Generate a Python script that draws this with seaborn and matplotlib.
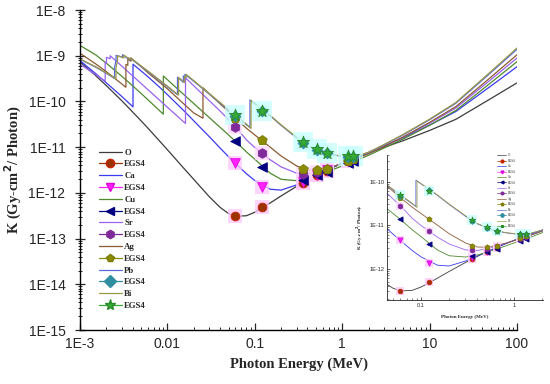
import numpy as np
import pandas as pd
import matplotlib
matplotlib.use("Agg")
import matplotlib.pyplot as plt
import seaborn as sns
from matplotlib.lines import Line2D
from matplotlib.ticker import LogLocator, FixedLocator, FixedFormatter, NullFormatter

sns.set_style("ticks")
plt.rcParams['font.family'] = ['Liberation Sans', 'DejaVu Sans']

# ---------------- data (photon energy in MeV, K in Gy-cm^2/photon) ----------------
O_E = [0.001, 0.0015, 0.002, 0.003, 0.004, 0.005, 0.006, 0.008, 0.01, 0.015, 0.02, 0.03, 0.04, 0.05,
       0.06, 0.08, 0.1, 0.15, 0.2, 0.3, 0.4, 0.5, 0.6, 0.8, 1.0, 1.25, 1.5, 2.0, 3.0, 5.0, 10.0, 20.0, 50.0, 100.0]
O_K = [7.33e-10, 3.71e-10, 2.22e-10, 1.04e-10, 5.88e-11, 3.76e-11, 2.59e-11, 1.41e-11, 8.78e-12, 3.65e-12,
       1.98e-12, 8.31e-13, 4.83e-13, 3.54e-13, 3.08e-13, 3.16e-13, 3.77e-13, 6.02e-13, 8.58e-13, 1.38e-12,
       1.89e-12, 2.38e-12, 2.84e-12, 3.70e-12, 4.48e-12, 5.34e-12, 6.13e-12, 7.51e-12, 9.87e-12, 1.39e-11,
       2.32e-11, 4.07e-11, 1.15e-10, 2.55e-10]

Ca_E = [0.001, 0.0015, 0.002, 0.003, 0.004038, 0.004038, 0.005, 0.006, 0.008, 0.01, 0.015, 0.02, 0.03, 0.04,
        0.05, 0.06, 0.08, 0.1, 0.15, 0.2, 0.3, 0.4, 0.5, 0.6, 0.8, 1.0, 1.25, 1.5, 2.0, 3.0, 5.0, 10.0, 20.0,
        50.0, 100.0]
Ca_K = [7.79e-10, 4.11e-10, 2.55e-10, 1.29e-10, 7.6e-11, 6.5e-10, 4.65e-10, 3.46e-10, 2.11e-10, 1.41e-10,
        6.6e-11, 3.78e-11, 1.71e-11, 9.6e-12, 6.2e-12, 4.42e-12, 2.63e-12, 1.86e-12, 1.20e-12, 1.15e-12,
        1.49e-12, 1.95e-12, 2.40e-12, 2.85e-12, 3.68e-12, 4.45e-12, 5.33e-12, 6.15e-12, 7.69e-12, 1.06e-11,
        1.61e-11, 3.03e-11, 6.04e-11, 2.16e-10, 5.75e-10]

Cu_E = [0.001, 0.0015, 0.002, 0.003, 0.004, 0.005, 0.006, 0.008, 0.008979, 0.008979, 0.01, 0.015, 0.02, 0.03,
        0.04, 0.05, 0.06, 0.08, 0.1, 0.15, 0.2, 0.3, 0.4, 0.5, 0.6, 0.8, 1.0, 1.25, 1.5, 2.0, 3.0, 5.0, 10.0,
        20.0, 50.0, 100.0]
Cu_K = [1.68e-9, 1.056e-9, 6.86e-10, 3.57e-10, 2.20e-10, 1.495e-10, 1.084e-10, 6.47e-11, 5.26e-11, 3.6e-10,
        2.99e-10, 1.48e-10, 9.0e-11, 4.47e-11, 2.72e-11, 1.85e-11, 1.35e-11, 7.9e-12, 5.45e-12, 2.69e-12,
        1.98e-12, 1.85e-12, 2.05e-12, 2.34e-12, 2.66e-12, 3.29e-12, 3.89e-12, 4.59e-12, 5.26e-12, 6.64e-12,
        9.56e-12, 1.51e-11, 3.01e-11, 6.37e-11, 2.55e-10, 7.41e-10]

Sr_E = [0.001, 0.0015, 0.00194, 0.00194, 0.002007, 0.002007, 0.002216, 0.002216, 0.003, 0.004, 0.005, 0.006,
        0.008, 0.01, 0.015, 0.0161, 0.0161, 0.02, 0.03, 0.04, 0.05, 0.06, 0.08, 0.1, 0.15, 0.2, 0.3, 0.4, 0.5,
        0.6, 0.8, 1.0, 1.25, 1.5, 2.0, 3.0, 5.0, 10.0, 20.0, 50.0, 100.0]
Sr_K = [6.5e-10, 3.89e-10, 2.8e-10, 7.2e-10, 6.9e-10, 9.2e-10, 8.6e-10, 1.0e-9, 5.94e-10, 3.62e-10, 2.47e-10,
        1.80e-10, 1.10e-10, 7.46e-11, 3.72e-11, 3.3e-11, 3.3e-10, 2.2e-10, 1.05e-10, 6.2e-11, 4.0e-11, 2.8e-11,
        1.45e-11, 9.8e-12, 5.3e-12, 3.7e-12, 2.7e-12, 2.6e-12, 2.85e-12, 3.15e-12, 3.8e-12, 4.4e-12, 5.2e-12,
        5.9e-12, 7.3e-12, 1.03e-11, 1.65e-11, 3.33e-11, 7.21e-11, 2.98e-10, 8.91e-10]

Ag_E = [0.001, 0.0015, 0.002, 0.003, 0.003351, 0.003351, 0.003524, 0.003524, 0.003806, 0.003806, 0.004, 0.005,
        0.006, 0.008, 0.01, 0.015, 0.02, 0.02551, 0.02551, 0.03, 0.04, 0.05, 0.06, 0.08, 0.1, 0.15, 0.2, 0.3,
        0.4, 0.5, 0.6, 0.8, 1.0, 1.25, 1.5, 2.0, 3.0, 5.0, 10.0, 20.0, 50.0, 100.0]
Ag_K = [1.128e-9, 6.7e-10, 4.49e-10, 2.42e-10, 2.04e-10, 6.44e-10, 6.2e-10, 8.47e-10, 7.6e-10, 9.0e-10,
        8.33e-10, 5.77e-10, 4.23e-10, 2.69e-10, 1.89e-10, 9.25e-11, 5.6e-11, 4.3e-11, 2.0e-10, 1.49e-10,
        8.9e-11, 5.96e-11, 4.3e-11, 2.6e-11, 1.85e-11, 1.0e-11, 6.4e-12, 3.9e-12, 3.15e-12, 3.1e-12, 3.3e-12,
        3.8e-12, 4.4e-12, 5.1e-12, 5.8e-12, 7.2e-12, 1.03e-11, 1.68e-11, 3.48e-11, 7.73e-11, 3.37e-10, 1.05e-9]

Pb_E = [0.001, 0.0015, 0.002, 0.002484, 0.002484, 0.002586, 0.002586, 0.003, 0.003066, 0.003066, 0.003554,
        0.003554, 0.003851, 0.003851, 0.004, 0.005, 0.006, 0.008, 0.01, 0.01304, 0.01304, 0.015, 0.0152,
        0.0152, 0.01586, 0.01586, 0.02, 0.03, 0.04, 0.05, 0.06, 0.08, 0.088, 0.088, 0.1, 0.15, 0.2, 0.3, 0.4,
        0.5, 0.6, 0.8, 1.0, 1.25, 1.5, 2.0, 3.0, 5.0, 10.0, 20.0, 50.0, 100.0]
Pb_K = [8.35e-10, 5.66e-10, 4.12e-10, 3.19e-10, 5.56e-10, 8.05e-10, 1.018e-9, 9.44e-10, 9.12e-10, 1.054e-9,
        8.52e-10, 9.02e-10, 8.0e-10, 8.31e-10, 8.02e-10, 5.85e-10, 4.49e-10, 2.93e-10, 2.09e-10, 1.40e-10,
        3.39e-10, 2.68e-10, 2.62e-10, 3.62e-10, 3.41e-10, 3.93e-10, 2.77e-10, 1.457e-10, 9.2e-11, 6.44e-11,
        4.83e-11, 3.10e-11, 2.69e-11, 1.083e-10, 8.89e-11, 4.84e-11, 3.0e-11, 1.6e-11, 1.08e-11, 8.8e-12,
        7.6e-12, 6.7e-12, 6.3e-12, 6.2e-12, 6.4e-12, 7.6e-12, 1.12e-11, 1.86e-11, 3.98e-11, 9.14e-11,
        4.24e-10, 1.38e-9]

Bi_E = [0.001, 0.0015, 0.002, 0.00258, 0.00258, 0.00269, 0.00269, 0.00318, 0.00318, 0.0037, 0.0037, 0.004,
        0.004, 0.005, 0.006, 0.008, 0.01, 0.01342, 0.01342, 0.01571, 0.01571, 0.01639, 0.01639, 0.02, 0.03,
        0.04, 0.05, 0.06, 0.08, 0.0905, 0.0905, 0.1, 0.15, 0.2, 0.3, 0.4, 0.5, 0.6, 0.8, 1.0, 1.25, 1.5, 2.0,
        3.0, 5.0, 10.0, 20.0, 50.0, 100.0]
Bi_K = [8.5e-10, 5.8e-10, 4.22e-10, 3.15e-10, 5.5e-10, 7.9e-10, 1.0e-9, 8.9e-10, 1.03e-9, 8.4e-10, 8.9e-10,
        7.9e-10, 8.2e-10, 6.0e-10, 4.62e-10, 3.02e-10, 2.16e-10, 1.38e-10, 3.35e-10, 2.6e-10, 3.55e-10,
        3.35e-10, 3.9e-10, 2.86e-10, 1.5e-10, 9.5e-11, 6.65e-11, 5.0e-11, 3.2e-11, 2.55e-11, 1.04e-10,
        9.0e-11, 4.95e-11, 3.08e-11, 1.65e-11, 1.1e-11, 9.0e-12, 7.7e-12, 6.8e-12, 6.4e-12, 6.3e-12, 6.5e-12,
        7.7e-12, 1.14e-11, 1.91e-11, 4.10e-11, 9.51e-11, 4.48e-10, 1.48e-9]

EGS_E = [0.0595, 0.122, 0.356, 0.511, 0.662, 1.173, 1.332]
O_egs = [3.1e-13, 4.8e-13, 1.65e-12, 2.4e-12, 2.95e-12, 5.0e-12, 5.6e-12]
Ca_egs = [4.5e-12, 1.35e-12, 1.75e-12, 2.45e-12, 3.1e-12, 5.0e-12, 5.6e-12]
Cu_egs = [1.35e-11, 3.6e-12, 1.95e-12, 2.4e-12, 2.85e-12, 4.4e-12, 4.9e-12]
Sr_egs = [2.8e-11, 7.3e-12, 2.65e-12, 2.9e-12, 3.3e-12, 4.9e-12, 5.4e-12]
Ag_egs = [4.3e-11, 1.4e-11, 3.3e-12, 3.1e-12, 3.4e-12, 5.0e-12, 5.5e-12]
Pb_egs = [4.8e-11, 6.3e-11, 1.25e-11, 8.8e-12, 7.4e-12, 6.2e-12, 6.2e-12]
Bi_egs = [5.0e-11, 6.2e-11, 1.3e-11, 9.0e-12, 7.5e-12, 6.4e-12, 6.3e-12]

elements = ["O", "Ca", "Cu", "Sr", "Ag", "Pb", "Bi"]
series = {"O": (O_E, O_K, O_egs), "Ca": (Ca_E, Ca_K, Ca_egs), "Cu": (Cu_E, Cu_K, Cu_egs),
          "Sr": (Sr_E, Sr_K, Sr_egs), "Ag": (Ag_E, Ag_K, Ag_egs), "Pb": (Pb_E, Pb_K, Pb_egs),
          "Bi": (Bi_E, Bi_K, Bi_egs)}

x_ticks = [1e-3, 1e-2, 1e-1, 1, 10, 100]
x_ticklabels = ["1E-3", "0.01", "0.1", "1", "10", "100"]
y_ticks = [1e-15, 1e-14, 1e-13, 1e-12, 1e-11, 1e-10, 1e-9, 1e-8]
y_ticklabels = ["1E-15", "1E-14", "1E-13", "1E-12", "1E-11", "1E-10", "1E-9", "1E-8"]

# ---------------- styles ----------------
line_col = {"O": "#3c3c3c", "Ca": "#3a3af0", "Cu": "#4f8a2e", "Sr": "#9b62ef",
            "Ag": "#8c5a32", "Pb": "#5a6ad8", "Bi": "#9a9a4a"}
mk = {"O": ("o", "#993300", "#cc2200", 40), "Ca": ("v", "#ff22ff", "#dd00dd", 48),
      "Cu": ("<", "#000080", "#000080", 48), "Sr": ("h", "#7f2a9a", "#7f2a9a", 48),
      "Ag": ("p", "#8c8c00", "#7a7a00", 52), "Pb": ("D", "#2f8fa0", "#2f8fa0", 30),
      "Bi": ("*", "#35aa35", "#2a8a2a", 85)}
halo = {"O": "#ffc8ff", "Ca": "#ffc8ff", "Sr": "#ffd8ff", "Pb": "#c8ffff", "Bi": "#c8ffff"}

serif = ['Liberation Serif', 'DejaVu Serif']

fig = plt.figure(figsize=(5.5, 3.84), dpi=100)
ax = fig.add_axes([0.1455, 0.1406, 0.7945, 0.8333])
ax2 = fig.add_axes([0.7036, 0.21875, 0.2836, 0.3776])

for a in (ax, ax2):
    a.set_xscale("log")
    a.set_yscale("log")

def draw(a, lw, scale, halo_on):
    for el in elements:
        E, K, egs = series[el]
        sns.lineplot(x=E, y=K, ax=a, color=line_col[el], lw=lw, sort=False, estimator=None,
                     legend=False, zorder=2)
    for el in elements:
        E, K, egs = series[el]
        m, fc, ec, s = mk[el]
        if halo_on and el in halo:
            sns.scatterplot(x=EGS_E, y=egs, ax=a, marker="s", s=s * 2.4 * scale, color=halo[el],
                            alpha=0.75, linewidth=0, legend=False, zorder=3)
        sns.scatterplot(x=EGS_E, y=egs, ax=a, marker=m, s=s * scale, color=fc, edgecolor=ec,
                        linewidth=0.6, legend=False, zorder=4)

draw(ax, 0.9, 1.0, True)
draw(ax2, 0.6, 0.28, True)

# ---------------- main axes formatting ----------------
ax.set_xlim(1e-3, 100)
ax.set_ylim(1e-15, 1e-8)
ax.xaxis.set_major_locator(FixedLocator(x_ticks))
ax.xaxis.set_major_formatter(FixedFormatter(x_ticklabels))
ax.yaxis.set_major_locator(FixedLocator(y_ticks))
ax.yaxis.set_major_formatter(FixedFormatter(y_ticklabels))
for axis in (ax.xaxis, ax.yaxis):
    axis.set_minor_locator(LogLocator(base=10, subs=np.arange(2, 10), numticks=20))
    axis.set_minor_formatter(NullFormatter())
ax.tick_params(axis="x", which="major", direction="in", length=5, width=0.9, labelsize=10, pad=5)
ax.tick_params(axis="x", which="minor", direction="in", length=2.5, width=0.7)
ax.tick_params(axis="y", which="major", direction="inout", length=7, width=0.9, labelsize=10, pad=7)
ax.tick_params(axis="y", which="minor", direction="inout", length=3.5, width=0.7)
sns.despine(ax=ax)
for sp in ("left", "bottom"):
    ax.spines[sp].set_linewidth(1.0)
    ax.spines[sp].set_color("black")
ax.set_xlabel("Photon Energy (MeV)", family=serif, fontweight="bold", fontsize=10.5, labelpad=5)
ax.set_ylabel("K (Gy-cm$^{\\mathbf{2}}$/ Photon)", family=serif, fontweight="bold", fontsize=10.5, labelpad=3)

handles, labels = [], []
for el in elements:
    m, fc, ec, s = mk[el]
    handles.append(Line2D([0], [0], color=line_col[el], lw=0.9))
    labels.append(el)
    handles.append(Line2D([0], [0], color=fc, lw=0.9, marker=m, markersize=6 if m != "*" else 8,
                          markerfacecolor=fc, markeredgecolor=ec))
    labels.append("EGS4")
ax.legend(handles, labels, loc="upper left", bbox_to_anchor=(0.035, 0.578), frameon=False,
          prop={"family": serif, "weight": "bold", "size": 6.3}, labelspacing=0.42,
          handlelength=2.6, handletextpad=0.3, borderaxespad=0)

# ---------------- inset formatting ----------------
ax2.set_facecolor("white")
ax2.set_xlim(0.043, 2.05)
ax2.set_ylim(1.9e-13, 4.1e-10)
ax2.xaxis.set_major_locator(FixedLocator([0.1, 1]))
ax2.xaxis.set_major_formatter(FixedFormatter(["0.1", "1"]))
ax2.yaxis.set_major_locator(FixedLocator([1e-12, 1e-11, 1e-10]))
ax2.yaxis.set_major_formatter(FixedFormatter(["1E-12", "1E-11", "1E-10"]))
for axis in (ax2.xaxis, ax2.yaxis):
    axis.set_minor_locator(LogLocator(base=10, subs=np.arange(2, 10), numticks=20))
    axis.set_minor_formatter(NullFormatter())
ax2.tick_params(which="major", direction="in", length=2.5, width=0.5, labelsize=4, pad=2)
ax2.tick_params(which="minor", direction="in", length=1.2, width=0.4)
sns.despine(ax=ax2)
for sp in ("left", "bottom"):
    ax2.spines[sp].set_linewidth(0.6)
ax2.set_xlabel("Photon Energy (MeV)", family=serif, fontweight="bold", fontsize=3.6, labelpad=5)
ax2.set_ylabel("K (Gy-cm$^{\\mathbf{2}}$/ Photon)", family=serif, fontweight="bold", fontsize=3.6, labelpad=3)

handles2 = []
for el in elements:
    m, fc, ec, s = mk[el]
    handles2.append(Line2D([0], [0], color=line_col[el], lw=0.5))
    handles2.append(Line2D([0], [0], color=fc, lw=0.5, marker=m, markersize=2,
                           markerfacecolor=fc, markeredgecolor=ec))
ax2.legend(handles2, labels, loc="upper left", bbox_to_anchor=(0.70, 1.02), frameon=False,
           prop={"family": serif, "size": 2.3}, labelspacing=0.45, handlelength=2.8,
           handletextpad=0.4, borderaxespad=0)

fig.savefig("out.png", dpi=100)
